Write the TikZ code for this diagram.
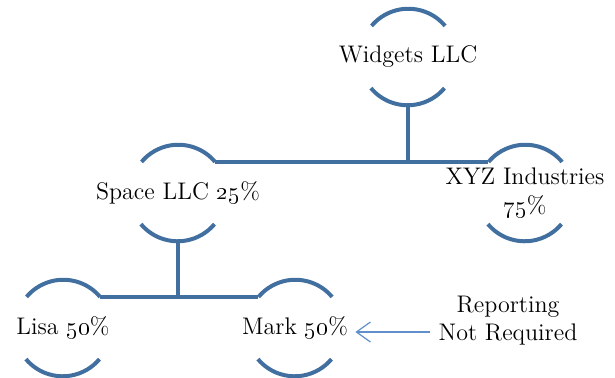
\documentclass[tikz,border=0pt]{standalone}
\usetikzlibrary{arrows.meta}
\definecolor{orgblue}{RGB}{65,112,160}
\definecolor{tipblue}{RGB}{96,143,204}
\tikzset{
  owner/.style={circle,minimum size=48pt,inner sep=0pt,
    label={[align=center,font=\fontsize{12}{14.5}\selectfont]center:#1}},
  hookline/.style={orgblue,line width=2pt},
  tipline/.style={tipblue,line width=0.6pt,-{Straight Barb[length=7pt,width=10pt]}},
}
\newcommand{\ownerarcs}[1]{%
  \draw[hookline] (#1.40) arc[start angle=40,end angle=140,radius=24pt];
  \draw[hookline] (#1.220) arc[start angle=220,end angle=320,radius=24pt];}
\begin{document}
\begin{tikzpicture}[x=0.5pt,y=-0.5pt]
\useasboundingbox (0,0) rectangle (615,377);
\node[owner={Widgets LLC}] (widgets) at (408,57) {};
\node[owner={Space LLC \oldstylenums{25}\%}] (space) at (178,193) {};
\node[owner={XYZ Industries\\\oldstylenums{75}\%}] (xyz) at (525,193) {};
\node[owner={Lisa \oldstylenums{50}\%}] (lisa) at (63,328) {};
\node[owner={Mark \oldstylenums{50}\%}] (mark) at (295,328) {};
\node[align=center,font=\fontsize{12}{14}\selectfont] (report) at (508,321) {Reporting\\Not Required};
\ownerarcs{widgets}
\ownerarcs{space}
\ownerarcs{xyz}
\ownerarcs{lisa}
\ownerarcs{mark}
\draw[hookline] (space.40) -- (xyz.140);
\draw[hookline] (widgets.south) -- (widgets.south |- space.40);
\draw[hookline] (lisa.40) -- (mark.140);
\draw[hookline] (space.south) -- (space.south |- lisa.40);
\draw[tipline] ([xshift=-1pt,yshift=-5.5pt]report.west) -- ([xshift=6pt,yshift=-5.5pt]report.west -| mark.east);
\end{tikzpicture}
\end{document}
